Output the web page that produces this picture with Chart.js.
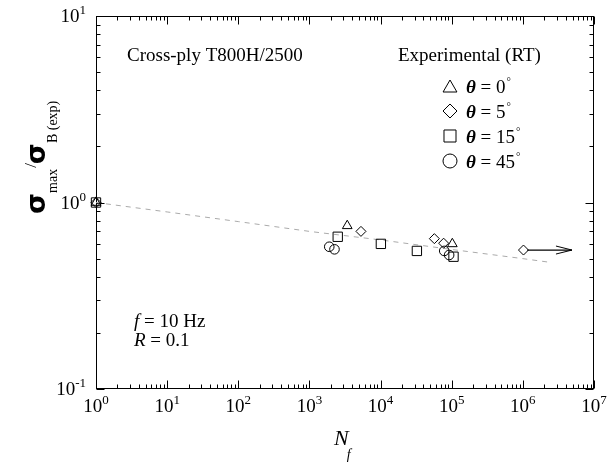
<!DOCTYPE html>
<html lang="en">
<head>
    <meta charset="UTF-8">
    <title>Cross-ply T800H/2500 fadiga</title>
    <script src="https://cdn.jsdelivr.net/npm/chart.js"></script>
    <style>
        html, body { margin: 0; padding: 0; background: #fff; }
        #caixa { width: 608px; height: 465px; }
    </style>
</head>
<body>
    <div id="caixa"><canvas id="grafico" width="608" height="465"></canvas></div>
<script>
    // valores (N_f, sigma_max / sigma_B)
    const ciclosTriangulo = [1, 3400, 102000]
    const razaoTriangulo = [1.0, 0.75, 0.60]
    const ciclosLosango = [1, 5300, 57000, 77000, 1020000]
    const razaoLosango = [1.0, 0.70, 0.64, 0.605, 0.556]
    const ciclosQuadrado = [1, 2500, 10100, 32400, 106000]
    const razaoQuadrado = [1.0, 0.655, 0.60, 0.55, 0.512]
    const ciclosCirculo = [1900, 2250, 78500, 92000]
    const razaoCirculo = [0.579, 0.561, 0.55, 0.523]
    // curva tracejada (previsao)
    const ciclosCurva = [1, 10, 100, 1000, 10000, 100000, 1000000, 2200000]
    const razaoCurva = [1.0, 0.89, 0.79, 0.70, 0.63, 0.56, 0.50, 0.48]
    // seta de run-out
    const ciclosSeta = [1150000, 4900000]
    const razaoSeta = [0.556, 0.556]
    // rotulos dos eixos (expoentes de 10)
    const expoentesX = [0, 1, 2, 3, 4, 5, 6, 7]
    const expoentesY = [-1, 0, 1]
    const angulos = ['0', '5', '15', '45']
    const simbolos = ['triangle', 'rectRot', 'rect', 'circle']

    const serif = '"Liberation Serif", "Times New Roman", serif'

    function pontos(xs, ys) {
        return xs.map((v, i) => ({ x: v, y: ys[i] }))
    }

    function serie(xs, ys, estilo, raio) {
        return {
            data: pontos(xs, ys),
            pointStyle: estilo,
            pointRadius: raio,
            pointHoverRadius: raio,
            pointBorderColor: '#000',
            pointBackgroundColor: 'rgba(0,0,0,0)',
            pointBorderWidth: 1,
            showLine: false,
            clip: false
        }
    }

    function potencia(ctx, exp, x, y, alinhar) {
        ctx.font = '19px ' + serif
        const w1 = ctx.measureText('10').width
        const txt = exp < 0 ? '-' + (-exp) : String(exp)
        ctx.font = '13px ' + serif
        const w2 = ctx.measureText(txt).width
        const x0 = alinhar === 'center' ? x - (w1 + w2) / 2 : x - (w1 + w2)
        ctx.font = '19px ' + serif
        ctx.fillText('10', x0, y)
        ctx.font = '13px ' + serif
        ctx.fillText(txt, x0 + w1, y - 8)
    }

    const eixos = {
        id: 'eixos',
        beforeDatasetsDraw(chart) {
            const { ctx, chartArea: a, scales: { x, y } } = chart
            ctx.save()
            ctx.strokeStyle = '#000'
            ctx.lineWidth = 1
            const l = Math.round(a.left) + 0.5, r = Math.round(a.right) - 0.5
            const t = Math.round(a.top) + 0.5, b = Math.round(a.bottom) - 0.5
            ctx.strokeRect(l, t, r - l, b - t)
            ctx.beginPath()
            const ultX = expoentesX[expoentesX.length - 1]
            for (let d = expoentesX[0]; d <= ultX; d++) {
                for (let m = 1; m <= 9; m++) {
                    if (d === ultX && m > 1) break
                    const px = Math.round(x.getPixelForValue(m * Math.pow(10, d))) + 0.5
                    const len = m === 1 ? 8 : 4
                    ctx.moveTo(px, b); ctx.lineTo(px, b - len)
                    ctx.moveTo(px, t); ctx.lineTo(px, t + len)
                }
            }
            const ultY = expoentesY[expoentesY.length - 1]
            for (let d = expoentesY[0]; d <= ultY; d++) {
                for (let m = 1; m <= 9; m++) {
                    if (d === ultY && m > 1) break
                    const py = Math.round(y.getPixelForValue(m * Math.pow(10, d))) + 0.5
                    const len = m === 1 ? 8 : 4
                    ctx.moveTo(l, py); ctx.lineTo(l + len, py)
                    ctx.moveTo(r, py); ctx.lineTo(r - len, py)
                }
            }
            ctx.stroke()
            ctx.restore()
        },
        afterDraw(chart) {
            const { ctx, chartArea: a, scales: { x, y } } = chart
            ctx.save()
            ctx.fillStyle = '#000'
            ctx.strokeStyle = '#000'
            ctx.textBaseline = 'alphabetic'
            ctx.textAlign = 'left'

            // rotulos de ticks
            expoentesX.forEach(e => potencia(ctx, e, x.getPixelForValue(Math.pow(10, e)), a.bottom + 23, 'center'))
            expoentesY.forEach(e => potencia(ctx, e, a.left - 10, y.getPixelForValue(Math.pow(10, e)) + 6, 'right'))

            // ponta da seta
            const sx = x.getPixelForValue(ciclosSeta[1])
            const sy = y.getPixelForValue(razaoSeta[1])
            ctx.lineWidth = 1
            ctx.beginPath()
            ctx.moveTo(sx - 16, sy - 4); ctx.lineTo(sx, sy); ctx.lineTo(sx - 16, sy + 4)
            ctx.stroke()

            // titulo eixo x
            ctx.font = 'italic 22px ' + serif
            ctx.fillText('N', 334, 445)
            const wN = ctx.measureText('N').width
            ctx.font = 'italic 14px ' + serif
            ctx.fillText('f', 334 + wN - 2, 459)

            // titulo eixo y (rodado)
            ctx.save()
            ctx.translate(45, 214)
            ctx.rotate(-Math.PI / 2)
            let px = 0
            ctx.font = 'bold 27px "DejaVu Sans", sans-serif'
            ctx.fillText('σ', px, 0)
            px += ctx.measureText('σ').width
            ctx.font = '14px ' + serif
            ctx.fillText('max', px, 12)
            px += ctx.measureText('max').width + 1
            ctx.font = '17px ' + serif
            ctx.fillText('/', px, -9)
            px += ctx.measureText('/').width - 1
            ctx.font = 'bold 27px "DejaVu Sans", sans-serif'
            ctx.fillText('σ', px, 0)
            px += ctx.measureText('σ').width
            ctx.font = '14px ' + serif
            ctx.fillText('B (exp)', px, 12)
            ctx.restore()

            // anotacoes
            ctx.font = '19px ' + serif
            ctx.fillText('Cross-ply T800H/2500', 127, 61)
            ctx.fillText('Experimental (RT)', 398, 61)

            ctx.font = 'italic 19px ' + serif
            ctx.fillText('f', 134, 327)
            let wf = ctx.measureText('f').width
            ctx.font = '19px ' + serif
            ctx.fillText(' = 10 Hz', 134 + wf, 327)
            ctx.font = 'italic 19px ' + serif
            ctx.fillText('R', 134, 346)
            wf = ctx.measureText('R').width
            ctx.font = '19px ' + serif
            ctx.fillText(' = 0.1', 134 + wf, 346)

            // legenda
            const linhas = [86, 111, 136, 161]
            const raios = [8, 7, 8.5, 7]
            angulos.forEach((ang, i) => {
                ctx.fillStyle = 'rgba(0,0,0,0)'
                ctx.lineWidth = 1
                Chart.helpers.drawPoint(ctx, { pointStyle: simbolos[i], radius: raios[i], rotation: 0, borderWidth: 1 }, 450, linhas[i] + (i === 0 ? 2 : 0))
                ctx.fillStyle = '#000'
                let tx = 466
                ctx.font = 'bold italic 19px ' + serif
                ctx.fillText('θ', tx, linhas[i] + 7)
                tx += ctx.measureText('θ').width
                ctx.font = '19px ' + serif
                ctx.fillText(' = ' + ang, tx, linhas[i] + 7)
                tx += ctx.measureText(' = ' + ang).width + 1
                ctx.font = '11px ' + serif
                ctx.fillText('°', tx, linhas[i] - 1)
            })
            ctx.restore()
        }
    }

    const ctxGrafico = document.getElementById('grafico')

    new Chart(ctxGrafico, {
        type: 'scatter',
        data: {
            datasets: [
                serie(ciclosTriangulo, razaoTriangulo, 'triangle', 5.6),
                serie(ciclosLosango, razaoLosango, 'rectRot', 5),
                serie(ciclosQuadrado, razaoQuadrado, 'rect', 6.6),
                serie(ciclosCirculo, razaoCirculo, 'circle', 4.8),
                {
                    data: pontos(ciclosSeta, razaoSeta),
                    showLine: true,
                    borderColor: '#000',
                    borderWidth: 1.3,
                    pointRadius: 0,
                    clip: false
                },
                {
                    data: pontos(ciclosCurva, razaoCurva),
                    showLine: true,
                    borderColor: '#aaa',
                    borderWidth: 1,
                    borderDash: [5, 5],
                    pointRadius: 0,
                    tension: 0
                }
            ]
        },
        options: {
            responsive: false,
            animation: false,
            layout: { padding: { left: 0, right: 14, top: 16, bottom: 0 } },
            plugins: {
                legend: { display: false },
                tooltip: { enabled: false }
            },
            scales: {
                x: {
                    type: 'logarithmic',
                    min: 1,
                    max: 1e7,
                    grid: { display: false },
                    border: { display: false },
                    ticks: { display: false },
                    afterFit(s) { s.height = 76 }
                },
                y: {
                    type: 'logarithmic',
                    min: 0.1,
                    max: 10,
                    grid: { display: false },
                    border: { display: false },
                    ticks: { display: false },
                    afterFit(s) { s.width = 96 }
                }
            }
        },
        plugins: [eixos]
    })
</script>
</body>
</html>
